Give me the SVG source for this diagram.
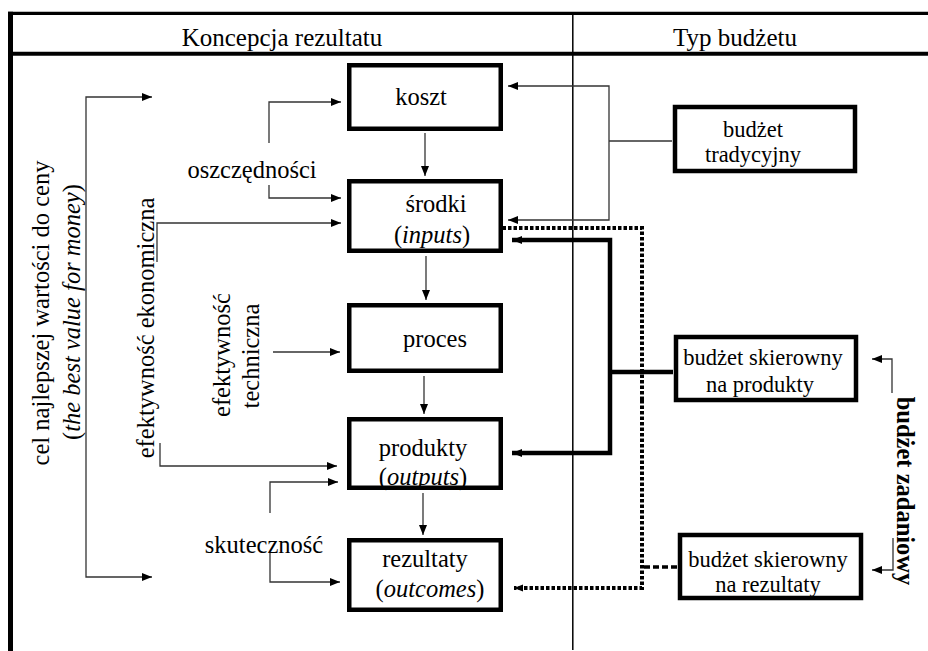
<svg xmlns="http://www.w3.org/2000/svg" width="928" height="651" viewBox="0 0 928 651">
<style>
text{font-family:"Liberation Serif","Times New Roman",serif;fill:#000}
.hd{font-size:25px;text-anchor:middle}
.lb{font-size:24.5px;text-anchor:middle}
.rb{font-size:22.5px;text-anchor:middle}
.box{fill:#fff;stroke:#000;stroke-width:4.5}
.thin{fill:none;stroke:#333;stroke-width:1.3}
.thick{fill:none;stroke:#000;stroke-width:4.5}
.dot{fill:none;stroke:#000;stroke-width:4;stroke-dasharray:3.5 2}
.dash{fill:none;stroke:#000;stroke-width:3.5;stroke-dasharray:6 3}
.frame{fill:none;stroke:#000}
</style>
<defs>
<marker id="ah" markerUnits="userSpaceOnUse" markerWidth="11" markerHeight="9" refX="10" refY="4" orient="auto"><path d="M0,0 L10,4 L0,8 z" fill="#000"/></marker>
<marker id="ahd" markerUnits="userSpaceOnUse" markerWidth="10" markerHeight="9" refX="9" refY="4" orient="auto"><path d="M0,0.5 L9,4 L0,7.5 z" fill="#000"/></marker>
</defs>
<rect width="928" height="651" fill="#fff"/>
<g id="frame">
<path class="frame" d="M8,13.3 H928" stroke-width="3.3"/>
<path class="frame" d="M8,53.7 H928" stroke-width="4"/>
<path class="frame" d="M10.5,11.7 V651" stroke-width="5"/>
<path class="frame" d="M572.8,13 V650" stroke-width="1.5"/>
<text class="hd" x="282" y="46">Koncepcja rezultatu</text>
<text class="hd" x="735" y="46">Typ budżetu</text>
</g>
<g id="connectors">
<path class="thin" d="M86,337 V97 H152" marker-end="url(#ah)"/>
<path class="thin" d="M86,337 V577 H152" marker-end="url(#ah)"/>
<path class="thin" d="M269,143 V102 H341" marker-end="url(#ah)"/>
<path class="thin" d="M269,185 V198 H341" marker-end="url(#ah)"/>
<path class="thin" d="M157,262 V223 H341" marker-end="url(#ah)"/>
<path class="thin" d="M160,443 V466 H337" marker-end="url(#ah)"/>
<path class="thin" d="M273,352 H340" marker-end="url(#ah)"/>
<path class="thin" d="M270,513 V482 H338" marker-end="url(#ah)"/>
<path class="thin" d="M270,553 V582 H340" marker-end="url(#ah)"/>
<path class="thin" d="M425,133 V176" marker-end="url(#ah)"/>
<path class="thin" d="M426,256 V300" marker-end="url(#ah)"/>
<path class="thin" d="M424,376 V414" marker-end="url(#ah)"/>
<path class="thin" d="M423,493 V535" marker-end="url(#ah)"/>
<path class="thin" d="M609,141 V86 H508" marker-end="url(#ah)"/>
<path class="thin" d="M609,141 V220 H508" marker-end="url(#ah)"/>
<path class="thin" d="M609,141 H672"/>
<path class="thick" d="M610,372 V240 H512" marker-end="url(#ah)"/>
<path class="thick" d="M610,372 V453 H512" marker-end="url(#ah)"/>
<path class="thick" d="M608,372 H673"/>
<path class="dot" d="M642,400 V228 H482" marker-end="url(#ahd)"/>
<path class="dot" d="M642,400 V588 H514" marker-end="url(#ahd)"/>
<path class="dash" d="M644,567 H677"/>
<path class="thin" d="M892,393 V359 H872" marker-end="url(#ah)"/>
<path class="thin" d="M893,538 V570 H872" marker-end="url(#ah)"/>
</g>
<g id="n-koszt"><rect class="box" x="349.25" y="65.25" width="151.5" height="63.5"/><text class="lb" x="421" y="105">koszt</text></g>
<g id="n-srodki"><rect class="box" x="349.25" y="181.25" width="151.5" height="69.5"/><text class="lb" x="436" y="212">środki</text><text class="lb" x="432" y="243">(<tspan font-style="italic">inputs</tspan>)</text></g>
<g id="n-proces"><rect class="box" x="349.25" y="305.25" width="151.5" height="65.5"/><text class="lb" x="435" y="347">proces</text></g>
<g id="n-produkty"><rect class="box" x="349.25" y="419.25" width="151.5" height="68.5"/><text class="lb" x="423" y="456">produkty</text><text class="lb" x="423" y="485">(<tspan font-style="italic">outputs</tspan>)</text></g>
<g id="n-rezultaty"><rect class="box" x="349.25" y="540.25" width="151.5" height="69.5"/><text class="lb" x="425" y="567">rezultaty</text><text class="lb" x="430" y="597">(<tspan font-style="italic">outcomes</tspan>)</text></g>
<g id="n-tradycyjny"><rect class="box" x="675" y="107" width="180" height="64"/><text class="rb" x="753" y="137">budżet</text><text class="rb" x="753" y="162">tradycyjny</text></g>
<g id="n-produkty-budget"><rect class="box" x="676" y="337" width="180" height="63"/><text class="rb" x="763" y="365">budżet skierowny</text><text class="rb" x="760" y="392">na produkty</text></g>
<g id="n-rezultaty-budget"><rect class="box" x="680" y="535" width="181" height="63"/><text class="rb" x="768" y="567">budżet skierowny</text><text class="rb" x="768" y="592">na rezultaty</text></g>
<g id="labels">
<text class="lb" x="49" y="313" transform="rotate(-90 49 313)">cel najlepszej wartości do ceny</text>
<text class="lb" x="80" y="312" transform="rotate(-90 80 312)">(<tspan font-style="italic">the best value for money</tspan>)</text>
<text class="lb" x="154" y="328" transform="rotate(-90 154 328)">efektywność ekonomiczna</text>
<text class="lb" x="230" y="355" transform="rotate(-90 230 355)">efektywność</text>
<text class="lb" x="259" y="356" transform="rotate(-90 259 356)">techniczna</text>
<text class="lb" x="252" y="178">oszczędności</text>
<text class="lb" x="264" y="553">skuteczność</text>
<text class="lb" x="897" y="491" font-weight="bold" transform="rotate(90 897 491)">budżet zadaniowy</text>
</g>
</svg>
